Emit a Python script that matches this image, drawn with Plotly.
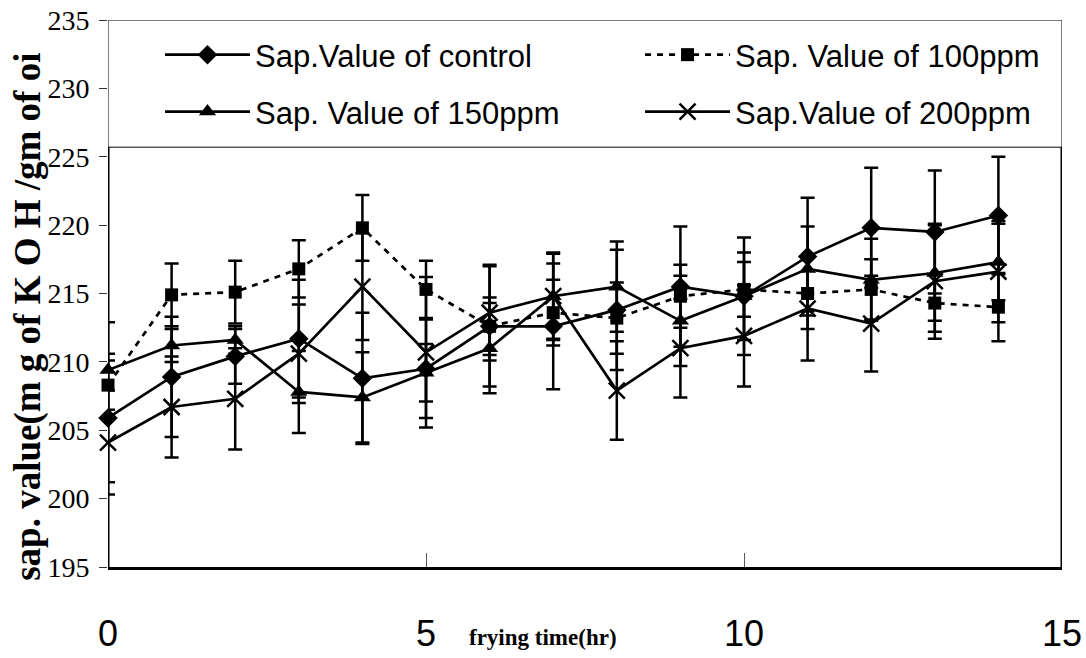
import plotly.graph_objects as go

hours = list(range(15))
control = [205.9, 208.9, 210.4, 211.7, 208.8, 209.5, 212.6, 212.6, 213.8, 215.5, 214.8, 217.7, 219.8, 219.5, 220.7]
ppm100 = [208.3, 214.9, 215.1, 216.8, 219.8, 215.3, 212.6, 213.6, 213.2, 214.8, 215.3, 215.0, 215.3, 214.3, 214.0]
ppm150 = [209.4, 211.2, 211.6, 207.8, 207.4, 209.2, 211.0, 214.8, 215.5, 213.0, 214.8, 216.8, 216.0, 216.5, 217.3]
ppm200 = [204.1, 206.7, 207.3, 210.6, 215.5, 210.7, 213.6, 214.8, 207.9, 211.0, 211.9, 213.9, 212.8, 215.9, 216.6]

control_err = [4.7, 4.4, 2.0, 4.3, 4.8, 3.6, 4.4, 4.6, 4.4, 4.4, 4.3, 4.3, 4.4, 4.5, 4.3]
ppm100_err = [1.8, 2.3, 2.3, 2.1, 2.4, 2.1, 2.1, 2.4, 2.6, 2.3, 2.0, 2.6, 2.2, 2.1, 2.5]
ppm150_err = [3.5, 1.2, 1.0, 3.0, 3.3, 2.1, 3.3, 3.1, 3.3, 3.3, 3.2, 3.1, 3.0, 3.5, 2.8]
ppm200_err = [3.8, 3.7, 3.7, 3.6, 3.9, 5.5, 3.5, 3.2, 3.6, 3.6, 3.7, 3.8, 3.5, 4.2, 3.7]

names = ["Sap.Value of control", "Sap. Value of 100ppm", "Sap. Value of 150ppm", "Sap.Value of 200ppm"]
x_ticks = [0, 5, 10, 15]
y_ticks = [195, 200, 205, 210, 215, 220, 225, 230, 235]

SANS = "Liberation Sans, Arial, sans-serif"
SERIF = "Liberation Serif, Times New Roman, serif"

fig = go.Figure()

def err(vals):
    return dict(type="data", array=vals, visible=True, color="black", thickness=2.5, width=7)

series = [
    (control, control_err, names[0], "diamond", "solid", 15, "legend"),
    (ppm100, ppm100_err, names[1], "square", "6px,6px", 13, "legend2"),
    (ppm150, ppm150_err, names[2], "triangle-up", "solid", 15, "legend3"),
    (ppm200, ppm200_err, names[3], "x-thin", "solid", 16, "legend4"),
]
for vals, e, nm, sym, dash, size, lg in series:
    mk = dict(symbol=sym, size=size, color="black")
    if sym == "x-thin":
        mk["line"] = dict(width=2.5, color="black")
    fig.add_trace(go.Scatter(
        x=hours, y=vals, name=nm, mode="lines+markers",
        line=dict(color="black", width=2.7, dash=dash),
        marker=mk, error_y=err(e), legend=lg, cliponaxis=False,
    ))

def leg(x, y):
    return dict(
        x=x, y=y, orientation="h", xref="paper", yref="paper",
        xanchor="left", yanchor="middle",
        bgcolor="rgba(0,0,0,0)", borderwidth=0, itemwidth=85,
        font=dict(family=SANS, size=31, color="black"),
    )

fig.update_layout(
    width=1086, height=658,
    margin=dict(l=108, r=24, t=20, b=91, autoexpand=False),
    paper_bgcolor="white", plot_bgcolor="white",
    showlegend=True,
    legend=leg(0.0545, 0.936),
    legend2=leg(0.5577, 0.936),
    legend3=leg(0.0545, 0.832),
    legend4=leg(0.5577, 0.832),
    xaxis=dict(
        range=[0, 15], tickvals=x_ticks, ticktext=[str(v) for v in x_ticks],
        showgrid=False, zeroline=False, showline=True, linecolor="black", linewidth=3,
        ticks="inside", ticklen=14, tickcolor="#555", tickwidth=1,
        ticklabelstandoff=33, automargin=False,
        tickfont=dict(family=SANS, size=36, color="black"),
    ),
    yaxis=dict(
        range=[195, 235], tickvals=y_ticks, ticktext=[str(v) for v in y_ticks],
        showgrid=False, zeroline=False, showline=False,
        ticks="outside", ticklen=8, tickcolor="#333", tickwidth=1,
        ticklabelstandoff=4, automargin=False,
        tickfont=dict(family=SERIF, size=28, color="black"),
    ),
    shapes=[
        dict(type="rect", xref="x", yref="y", x0=0, x1=15, y0=225.7, y1=235,
             line=dict(color="black", width=1), layer="above"),
        dict(type="line", xref="x", yref="y", x0=0, x1=0, y0=195, y1=225.7,
             line=dict(color="black", width=3), layer="above"),
        dict(type="line", xref="x", yref="y", x0=15, x1=15, y0=195, y1=225.7,
             line=dict(color="black", width=3), layer="above"),
    ],
    annotations=[
        dict(text="<b>sap. value(m g of K O H /gm of oi</b>", xref="paper", yref="paper",
             x=-0.0835, y=0.458, xanchor="center", yanchor="middle", textangle=-90,
             showarrow=False, font=dict(family=SERIF, size=37, color="black")),
        dict(text="<b>frying time(hr)</b>", xref="paper", yref="paper",
             x=0.456, y=-0.128, xanchor="center", yanchor="middle",
             showarrow=False, font=dict(family=SERIF, size=23, color="black")),
    ],
)

fig.write_html("out.html")
